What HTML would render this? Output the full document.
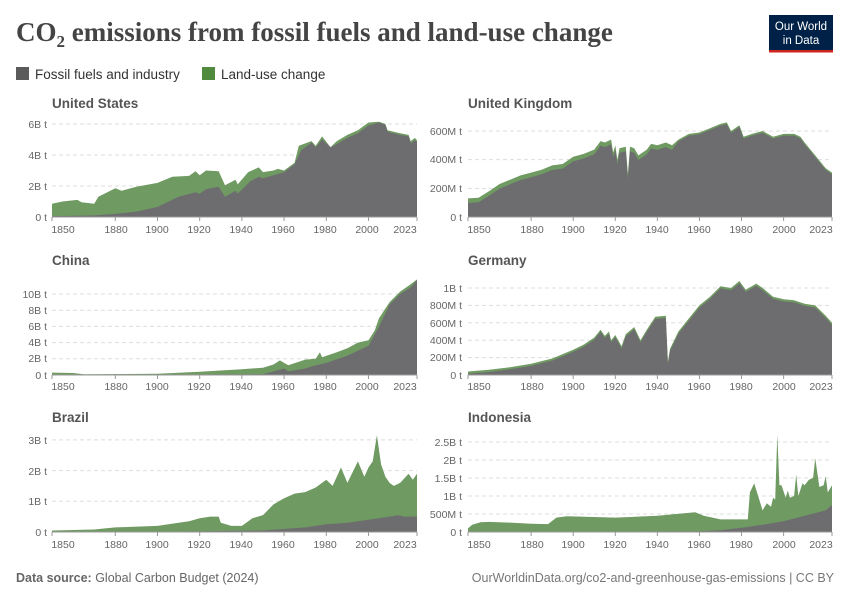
<!DOCTYPE html>
<html><head><meta charset="utf-8"><style>
body{margin:0;background:#fff;font-family:"Liberation Sans",sans-serif}
svg text{font-family:"Liberation Sans",sans-serif}
</style></head><body>
<svg id="s" width="850" height="600" xmlns="http://www.w3.org/2000/svg">
<text x="16" y="41" font-family="Liberation Serif" font-size="27" font-weight="bold" fill="#444" style="font-family:'Liberation Serif',serif">CO<tspan font-size="17" dy="6">2</tspan><tspan dy="-6"> emissions from fossil fuels and land-use change</tspan></text>
<rect x="769" y="15" width="64" height="35" fill="#002147"/>
<rect x="769" y="50" width="64" height="2.5" fill="#ce261e"/>
<text x="801" y="30" fill="#fff" font-size="11.5" text-anchor="middle">Our World</text>
<text x="801" y="44" fill="#fff" font-size="11.5" text-anchor="middle">in Data</text>
<rect x="16" y="67" width="13" height="13" fill="#5b5b5b"/>
<text x="35" y="79" font-size="13.5" fill="#333">Fossil fuels and industry</text>
<rect x="202" y="67" width="13" height="13" fill="#4f8a3f"/>
<text x="221" y="79" font-size="13.5" fill="#333">Land-use change</text>
<g id="p"></g>
<text x="16" y="582" font-size="12.5" fill="#666"><tspan font-weight="bold">Data source:</tspan> Global Carbon Budget (2024)</text>
<text x="834" y="582" font-size="12.5" fill="#777" text-anchor="end">OurWorldinData.org/co2-and-greenhouse-gas-emissions | CC BY</text>
<g font-size="13.5" font-weight="bold" fill="#555">
<text x="52" y="108">United States</text><text x="468" y="108">United Kingdom</text>
<text x="52" y="265">China</text><text x="468" y="265">Germany</text>
<text x="52" y="422">Brazil</text><text x="468" y="422">Indonesia</text>
</g>
<g font-size="10.5" fill="#666" id="lab">
<text x="47" y="128" text-anchor="end">6B t</text><text x="47" y="159" text-anchor="end">4B t</text><text x="47" y="190" text-anchor="end">2B t</text><text x="47" y="221" text-anchor="end">0 t</text>
<text x="462" y="135" text-anchor="end">600M t</text><text x="462" y="163" text-anchor="end">400M t</text><text x="462" y="192" text-anchor="end">200M t</text><text x="462" y="221" text-anchor="end">0 t</text>
<text x="47" y="298" text-anchor="end">10B t</text><text x="47" y="314" text-anchor="end">8B t</text><text x="47" y="330" text-anchor="end">6B t</text><text x="47" y="346" text-anchor="end">4B t</text><text x="47" y="362" text-anchor="end">2B t</text><text x="47" y="379" text-anchor="end">0 t</text>
<text x="462" y="292" text-anchor="end">1B t</text><text x="462" y="309" text-anchor="end">800M t</text><text x="462" y="327" text-anchor="end">600M t</text><text x="462" y="344" text-anchor="end">400M t</text><text x="462" y="361" text-anchor="end">200M t</text><text x="462" y="379" text-anchor="end">0 t</text>
<text x="47" y="444" text-anchor="end">3B t</text><text x="47" y="475" text-anchor="end">2B t</text><text x="47" y="505" text-anchor="end">1B t</text><text x="47" y="536" text-anchor="end">0 t</text>
<text x="462" y="446" text-anchor="end">2.5B t</text><text x="462" y="464" text-anchor="end">2B t</text><text x="462" y="482" text-anchor="end">1.5B t</text><text x="462" y="500" text-anchor="end">1B t</text><text x="462" y="518" text-anchor="end">500M t</text><text x="462" y="536" text-anchor="end">0 t</text>
</g>
<g font-size="10.5" fill="#666" text-anchor="middle">
<text x="63" y="233">1850</text><text x="116" y="233">1880</text><text x="157" y="233">1900</text><text x="199" y="233">1920</text><text x="241" y="233">1940</text><text x="283" y="233">1960</text><text x="325" y="233">1980</text><text x="367" y="233">2000</text><text x="405" y="233">2023</text>
<text x="479" y="233">1850</text><text x="532" y="233">1880</text><text x="573" y="233">1900</text><text x="615" y="233">1920</text><text x="657" y="233">1940</text><text x="699" y="233">1960</text><text x="741" y="233">1980</text><text x="784" y="233">2000</text><text x="821" y="233">2023</text>
<text x="63" y="390">1850</text><text x="116" y="390">1880</text><text x="157" y="390">1900</text><text x="199" y="390">1920</text><text x="241" y="390">1940</text><text x="283" y="390">1960</text><text x="325" y="390">1980</text><text x="367" y="390">2000</text><text x="405" y="390">2023</text>
<text x="479" y="390">1850</text><text x="532" y="390">1880</text><text x="573" y="390">1900</text><text x="615" y="390">1920</text><text x="657" y="390">1940</text><text x="699" y="390">1960</text><text x="741" y="390">1980</text><text x="784" y="390">2000</text><text x="821" y="390">2023</text>
<text x="63" y="548">1850</text><text x="116" y="548">1880</text><text x="157" y="548">1900</text><text x="199" y="548">1920</text><text x="241" y="548">1940</text><text x="283" y="548">1960</text><text x="325" y="548">1980</text><text x="367" y="548">2000</text><text x="405" y="548">2023</text>
<text x="479" y="548">1850</text><text x="532" y="548">1880</text><text x="573" y="548">1900</text><text x="615" y="548">1920</text><text x="657" y="548">1940</text><text x="699" y="548">1960</text><text x="741" y="548">1980</text><text x="784" y="548">2000</text><text x="821" y="548">2023</text>
</g>
</svg>
<script>
var P=[
{x0:52,x1:417,b:217,ppu:15.5,ticks:[2,4,6],
t:[[1850,.85],[1855,1],[1862,1.1],[1864,.95],[1870,.85],[1872,1.3],[1880,1.85],[1883,1.7],[1890,1.95],[1900,2.2],[1907,2.6],[1915,2.65],[1918,2.95],[1920,2.7],[1923,3],[1929,2.95],[1932,2.05],[1937,2.4],[1938,2.1],[1943,2.9],[1948,3.2],[1950,2.9],[1955,3],[1957,3.1],[1960,3],[1965,3.5],[1967,4.6],[1973,4.9],[1975,4.6],[1978,5.2],[1982,4.5],[1985,4.9],[1990,5.3],[1995,5.6],[2000,6.1],[2005,6.15],[2008,6],[2009,5.6],[2015,5.4],[2019,5.3],[2020,4.9],[2022,5.1],[2023,4.95]],
f:[[1850,.05],[1870,.1],[1880,.2],[1890,.35],[1900,.65],[1910,1.3],[1918,1.6],[1920,1.5],[1923,1.8],[1929,1.95],[1932,1.3],[1937,1.7],[1938,1.5],[1944,2.3],[1948,2.6],[1950,2.5],[1955,2.7],[1960,2.9],[1965,3.4],[1968,4.3],[1973,4.8],[1975,4.5],[1978,5],[1982,4.5],[1985,4.7],[1990,5.1],[1995,5.4],[2000,5.9],[2005,6.1],[2008,5.95],[2009,5.5],[2015,5.3],[2019,5.2],[2020,4.75],[2022,4.95],[2023,4.85]]},
{x0:468,x1:832,b:217,ppu:0.1433,ticks:[200,400,600],
t:[[1850,130],[1855,135],[1860,180],[1865,230],[1870,260],[1875,290],[1880,310],[1885,330],[1890,360],[1895,370],[1900,420],[1905,440],[1910,470],[1913,530],[1915,520],[1918,540],[1919,450],[1920,500],[1921,400],[1922,480],[1925,490],[1926,300],[1927,490],[1929,480],[1931,430],[1935,470],[1937,510],[1940,500],[1944,520],[1947,500],[1950,540],[1955,580],[1960,590],[1965,620],[1970,650],[1973,660],[1975,600],[1979,640],[1981,560],[1985,580],[1990,600],[1995,560],[2000,580],[2005,580],[2008,560],[2010,520],[2015,430],[2020,340],[2023,310]],off:function(y){return y<1950?32:12}},
{x0:52,x1:417,b:375,ppu:8.1,ticks:[2,4,6,8,10],
t:[[1850,.3],[1860,.25],[1865,.1],[1900,.15],[1920,.4],[1940,.7],[1950,.9],[1955,1.3],[1958,1.8],[1960,1.5],[1962,1.2],[1970,1.9],[1975,2],[1977,2.8],[1978,2.2],[1985,2.8],[1990,3.3],[1995,4],[2000,4.3],[2003,5.5],[2005,7],[2010,9],[2015,10.3],[2020,11.2],[2023,11.8]],
f:[[1850,0],[1900,.05],[1950,.1],[1960,.8],[1962,.45],[1970,.8],[1975,1.2],[1980,1.5],[1990,2.4],[2000,3.6],[2005,6],[2010,8.7],[2015,10],[2020,10.8],[2023,11.7]]},
{x0:468,x1:832,b:375,ppu:0.087,ticks:[200,400,600,800,1000],
t:[[1850,40],[1860,60],[1870,90],[1880,130],[1890,190],[1900,290],[1905,350],[1910,430],[1913,520],[1915,450],[1917,500],[1918,400],[1920,460],[1923,330],[1925,470],[1929,550],[1932,400],[1935,520],[1939,670],[1944,680],[1945,150],[1946,300],[1950,500],[1955,650],[1960,800],[1965,900],[1970,1020],[1975,1000],[1979,1080],[1982,980],[1987,1050],[1990,1000],[1995,900],[2000,870],[2005,860],[2010,820],[2015,800],[2020,680],[2023,600]],off:function(y){return 25}},
{x0:52,x1:417,b:532,ppu:30.7,ticks:[1,2,3],
t:[[1850,.05],[1870,.08],[1880,.15],[1900,.2],[1910,.3],[1915,.35],[1920,.45],[1925,.5],[1929,.5],[1930,.3],[1935,.2],[1940,.2],[1945,.45],[1950,.55],[1955,.9],[1960,1.1],[1965,1.25],[1970,1.3],[1975,1.45],[1980,1.7],[1983,1.5],[1987,2.1],[1990,1.6],[1995,2.3],[1998,1.8],[2000,2.1],[2002,2.3],[2004,3.15],[2006,2.2],[2008,1.8],[2010,1.6],[2012,1.5],[2015,1.6],[2019,1.9],[2021,1.7],[2023,1.9]],
f:[[1850,0],[1900,.01],[1950,.05],[1970,.15],[1980,.25],[1990,.3],[2000,.4],[2010,.5],[2014,.55],[2017,.5],[2023,.5]]},
{x0:468,x1:832,b:532,ppu:36,ticks:[.5,1,1.5,2,2.5],
t:[[1850,.1],[1852,.2],[1856,.27],[1860,.28],[1870,.26],[1880,.23],[1888,.22],[1892,.4],[1897,.44],[1920,.4],[1940,.45],[1958,.55],[1962,.45],[1970,.35],[1983,.35],[1984,1.1],[1986,1.35],[1990,.6],[1992,.8],[1994,.7],[1995,.95],[1996,.9],[1997,2.7],[1998,1.3],[1999,1.3],[2001,.95],[2002,1.15],[2003,.95],[2005,1],[2006,1.6],[2007,1],[2009,1.35],[2010,1.3],[2012,1.45],[2014,1.5],[2015,2.05],[2017,1.25],[2019,1.3],[2020,1.55],[2021,1.1],[2023,1.3]],
f:[[1850,0],[1960,.02],[1970,.05],[1980,.12],[1990,.2],[2000,.3],[2010,.45],[2020,.6],[2023,.75]]}
];
var g=document.getElementById('p'),h='';
P.forEach(function(p){
 var X=function(y){return p.x0+(y-1850)*(p.x1-p.x0)/173};
 var Y=function(v){return p.b-v*p.ppu};
 p.ticks.forEach(function(t){h+='<line x1="'+p.x0+'" x2="'+p.x1+'" y1="'+Y(t)+'" y2="'+Y(t)+'" stroke="#ddd" stroke-dasharray="4,3"/>';});
 var f=p.f||p.t.map(function(d){return [d[0],Math.max(0,d[1]-p.off(d[0]))]});
 function poly(a,c){var s=X(1850)+','+p.b+' ';a.forEach(function(d){s+=X(d[0]).toFixed(1)+','+Y(d[1]).toFixed(1)+' '});s+=X(2023)+','+p.b;h+='<polygon points="'+s+'" fill="'+c+'"/>';}
 poly(p.t,'#6f9a62');poly(f,'#6d6d6f');
 h+='<line x1="'+p.x0+'" x2="'+p.x1+'" y1="'+p.b+'" y2="'+p.b+'" stroke="#999"/>';
 [1850,1880,1900,1920,1940,1960,1980,2000,2023].forEach(function(y){h+='<line x1="'+X(y)+'" x2="'+X(y)+'" y1="'+p.b+'" y2="'+(p.b+4)+'" stroke="#999"/>';});
});
g.innerHTML=h;
</script>
</body></html>
